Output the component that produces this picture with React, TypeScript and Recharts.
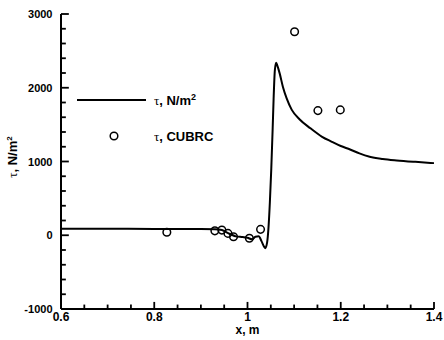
import React from "react";
import { ComposedChart, Line, Scatter, XAxis, YAxis, Legend, ReferenceLine } from "recharts";

const lineX = [0.6, 0.7, 0.8, 0.9, 0.93, 0.945, 0.955, 0.965, 0.975, 0.99, 1.0, 1.01, 1.017, 1.024, 1.03, 1.035, 1.038, 1.042, 1.045, 1.048, 1.051, 1.054, 1.056, 1.0587, 1.0615, 1.064, 1.069, 1.076, 1.084, 1.095, 1.112, 1.135, 1.16, 1.18, 1.2, 1.22, 1.24, 1.262, 1.29, 1.32, 1.36, 1.4];
const lineTau = [88, 88, 86, 84, 80, 70, 40, 10, -15, -25, -35, -55, -20, -15, -80, -150, -175, -100, 100, 450, 900, 1450, 1850, 2240, 2340, 2300, 2195, 2010, 1855, 1700, 1570, 1450, 1335, 1270, 1210, 1163, 1110, 1065, 1035, 1015, 995, 978];

const cubrcX = [0.827, 0.93, 0.945, 0.958, 0.97, 1.004, 1.028, 1.101, 1.151, 1.199];
const cubrcTau = [40, 60, 70, 25, -20, -40, 80, 2760, 1690, 1700];

const xTicks = [0.6, 0.65, 0.7, 0.75, 0.8, 0.85, 0.9, 0.95, 1.0, 1.05, 1.1, 1.15, 1.2, 1.25, 1.3, 1.35, 1.4];
const xMajor = [0.6, 0.8, 1.0, 1.2, 1.4];
const yTicks = [-1000, -800, -600, -400, -200, 0, 200, 400, 600, 800, 1000, 1200, 1400, 1600, 1800, 2000, 2200, 2400, 2600, 2800, 3000];
const yMajor = [-1000, 0, 1000, 2000, 3000];

const X_MIN = 0.6;
const X_MAX = 1.4;
const Y_MIN = -1000;
const Y_MAX = 3000;

const lineData = lineX.map((x, i) => ({ x, y: lineTau[i] }));
const cubrcData = cubrcX.map((x, i) => ({ x, y: cubrcTau[i] }));

const FONT = "'Liberation Sans', Arial, Helvetica, sans-serif";
const TAU_FONT = "'Liberation Serif', 'DejaVu Serif', serif";

const isMajor = (v: number, list: number[]) => list.some((m) => Math.abs(m - v) < 1e-6);

// tick lengths, expressed as fractions of the axis ranges
const xTickMajorLen = (Y_MAX - Y_MIN) * 0.024;
const xTickMinorLen = (Y_MAX - Y_MIN) * 0.015;
const yTickMajorLen = (X_MAX - X_MIN) * 0.021;
const yTickMinorLen = (X_MAX - X_MIN) * 0.013;

const XTick = (props: any) => {
  const x = Number(props.x);
  const y = Number(props.y);
  const { payload } = props;
  if (!isMajor(payload.value, xMajor)) return <g />;
  return (
    <text x={x} y={y + 12} textAnchor="middle" fontFamily={FONT} fontWeight="bold" fontSize={12} fill="#000">
      {String(Number(payload.value.toFixed(2)))}
    </text>
  );
};

const YTick = (props: any) => {
  const x = Number(props.x);
  const y = Number(props.y);
  const { payload } = props;
  if (!isMajor(payload.value, yMajor)) return <g />;
  return (
    <text x={x - 8.5} y={y + 4} textAnchor="end" fontFamily={FONT} fontWeight="bold" fontSize={11} fill="#000">
      {String(payload.value)}
    </text>
  );
};

const YLabel = (props: any) => {
  const vb = props.viewBox || { x: 0, y: 14, width: 61, height: 295 };
  const cx = vb.x + 17;
  const cy = vb.y + 143;
  return (
    <text x={cx} y={cy} transform={`rotate(-90 ${cx} ${cy})`} textAnchor="middle" fontFamily={FONT} fontWeight="bold" fontSize={13} fill="#000">
      <tspan fontFamily={TAU_FONT} fontWeight="normal">τ</tspan>
      <tspan>, N/m</tspan>
      <tspan fontSize={8} dy={-5}>2</tspan>
    </text>
  );
};

const XLabel = (props: any) => {
  const vb = props.viewBox || { x: 61, y: 309, width: 373, height: 31 };
  return (
    <text x={vb.x + vb.width / 2} y={vb.y + 25} textAnchor="middle" fontFamily={FONT} fontWeight="bold" fontSize={12} fill="#000">
      x, m
    </text>
  );
};

const Circle = (props: any) => {
  const { cx, cy } = props;
  return <circle cx={cx} cy={cy} r={3.8} fill="none" stroke="#000" strokeWidth={1.5} />;
};

const LegendBox = () => (
  <svg width={170} height={62} style={{ overflow: "visible" }}>
    <line x1={7} x2={76} y1={15} y2={15} stroke="#000" strokeWidth={2} />
    <text x={84} y={19.5} fontFamily={FONT} fontWeight="bold" fontSize={13} fill="#000">
      <tspan fontFamily={TAU_FONT} fontWeight="normal">τ</tspan>
      <tspan>, N/m</tspan>
      <tspan fontSize={9} dy={-5}>2</tspan>
    </text>
    <circle cx={44} cy={51} r={3.8} fill="none" stroke="#000" strokeWidth={1.5} />
    <text x={84} y={55.5} fontFamily={FONT} fontWeight="bold" fontSize={13} fill="#000">
      <tspan fontFamily={TAU_FONT} fontWeight="normal">τ</tspan>
      <tspan>, CUBRC</tspan>
    </text>
  </svg>
);

export default function App() {
  return (
    <div style={{ position: "absolute", left: 0, top: 0, width: 444, height: 340, background: "#fff" }}>
      <ComposedChart width={444} height={340} margin={{ top: 14, right: 10, left: 0, bottom: 0 }}>
        <XAxis
          type="number"
          dataKey="x"
          domain={[X_MIN, X_MAX]}
          ticks={xTicks}
          interval={0}
          height={31}
          tickSize={0}
          tickMargin={0}
          tickLine={false}
          tick={<XTick />}
          axisLine={{ stroke: "#000", strokeWidth: 2 }}
          label={<XLabel />}
        />
        <YAxis
          type="number"
          dataKey="y"
          domain={[Y_MIN, Y_MAX]}
          ticks={yTicks}
          interval={0}
          width={61}
          tickSize={0}
          tickMargin={0}
          tickLine={false}
          tick={<YTick />}
          axisLine={{ stroke: "#000", strokeWidth: 2 }}
          label={<YLabel />}
        />
        {xTicks.map((v) => (
          <ReferenceLine
            key={`xt${v}`}
            segment={[
              { x: v, y: Y_MIN },
              { x: v, y: Y_MIN + (isMajor(v, xMajor) ? xTickMajorLen : xTickMinorLen) },
            ]}
            stroke="#000"
            strokeWidth={1.8}
            ifOverflow="visible"
          />
        ))}
        {yTicks.map((v) => (
          <ReferenceLine
            key={`yt${v}`}
            segment={[
              { x: X_MIN, y: v },
              { x: X_MIN + (isMajor(v, yMajor) ? yTickMajorLen : yTickMinorLen), y: v },
            ]}
            stroke="#000"
            strokeWidth={1.8}
            ifOverflow="visible"
          />
        ))}
        <Legend
          layout="vertical"
          align="center"
          verticalAlign="middle"
          wrapperStyle={{ left: 70, top: 85, width: 170, height: 62 }}
          content={() => <LegendBox />}
        />
        <Line
          data={lineData}
          dataKey="y"
          type="monotone"
          stroke="#000"
          strokeWidth={2}
          dot={false}
          activeDot={false}
          isAnimationActive={false}
          name="τ, N/m2"
        />
        <Scatter data={cubrcData} dataKey="y" shape={<Circle />} isAnimationActive={false} name="τ, CUBRC" />
      </ComposedChart>
    </div>
  );
}
